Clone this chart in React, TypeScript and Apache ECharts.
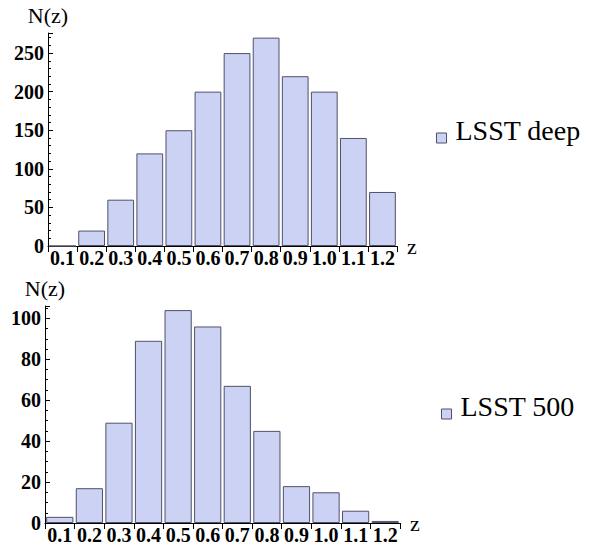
import React, { useEffect, useRef } from "react";
import * as echarts from "echarts";

const categories = ["0.1", "0.2", "0.3", "0.4", "0.5", "0.6", "0.7", "0.8", "0.9", "1.0", "1.1", "1.2"];
const deepValues = [0, 20, 60, 120, 150, 200, 250, 270, 220, 200, 140, 70];
const lsst500Values = [3, 17, 49, 89, 104, 96, 67, 45, 18, 15, 6, 1];
const seriesNames = ["LSST deep", "LSST 500"];

const FONT = "Liberation Serif";
const FILL = "#cbd2f3";
const EDGE = "#50506a";

function yAxisBase(max: number, interval: number, minorSplit: number, gridIndex: number) {
  return {
    type: "value",
    gridIndex,
    min: 0,
    max,
    interval,
    name: "N(z)",
    nameLocation: "end",
    nameGap: 7,
    nameTextStyle: { fontFamily: FONT, fontSize: 22, color: "#000" },
    axisLine: { show: true, lineStyle: { color: "#000", width: 1 } },
    axisTick: { show: true, inside: true, length: 5, lineStyle: { color: "#000" } },
    minorTick: { show: true, splitNumber: minorSplit, length: 3, lineStyle: { color: "#000" } },
    splitLine: { show: false },
    axisLabel: {
      showMaxLabel: false,
      margin: 4,
      fontFamily: FONT,
      fontSize: 20,
      fontWeight: "bold",
      color: "#000",
    },
  };
}

function xAxisBase(gridIndex: number) {
  return {
    type: "category",
    gridIndex,
    data: categories,
    name: "z",
    nameLocation: "end",
    nameGap: 10,
    nameTextStyle: { fontFamily: FONT, fontSize: 22, color: "#000" },
    axisLine: { show: true, lineStyle: { color: "#000", width: 1 } },
    axisTick: { show: true, inside: false, length: 6, alignWithLabel: false, lineStyle: { color: "#000" } },
    axisLabel: {
      interval: 0,
      margin: 2,
      fontFamily: FONT,
      fontSize: 20,
      fontWeight: "bold",
      color: "#000",
    },
  };
}

function legendEntry(name: string, x: number, y: number) {
  return {
    type: "group",
    left: x,
    top: y - 22,
    children: [
      {
        type: "rect",
        shape: { x: 0, y: 17, width: 10, height: 10 },
        style: { fill: FILL, stroke: EDGE, lineWidth: 1 },
      },
      {
        type: "text",
        x: 19,
        y: 0,
        style: {
          text: name,
          fontFamily: FONT,
          fontSize: 28,
          fill: "#000",
          textAlign: "left",
          textVerticalAlign: "top",
        },
      },
    ],
  };
}

export default function App() {
  const ref = useRef<HTMLDivElement>(null);
  useEffect(() => {
    if (!ref.current) return;
    const chart = echarts.init(ref.current, null, { renderer: "svg" });
    const barStyle = { color: FILL, borderColor: EDGE, borderWidth: 1 };
    chart.setOption({
      animation: false,
      backgroundColor: "#fff",
      textStyle: { fontFamily: FONT },
      grid: [
        { left: 48, top: 33, width: 349, height: 213 },
        { left: 45, top: 306, width: 355, height: 217 },
      ],
      xAxis: [xAxisBase(0), xAxisBase(1)],
      yAxis: [yAxisBase(276, 50, 5, 0), yAxisBase(106, 20, 4, 1)],
      graphic: [legendEntry(seriesNames[0], 436, 138), legendEntry(seriesNames[1], 441, 414)],
      series: [
        {
          name: seriesNames[0],
          type: "bar",
          xAxisIndex: 0,
          yAxisIndex: 0,
          data: deepValues,
          barCategoryGap: "8%",
          itemStyle: barStyle,
        },
        {
          name: seriesNames[1],
          type: "bar",
          xAxisIndex: 1,
          yAxisIndex: 1,
          data: lsst500Values,
          barCategoryGap: "8%",
          itemStyle: barStyle,
        },
      ],
    });
    return () => chart.dispose();
  }, []);
  return (
    <div
      ref={ref}
      style={{ position: "fixed", left: 0, top: 0, width: 594, height: 545, background: "#fff" }}
    />
  );
}
